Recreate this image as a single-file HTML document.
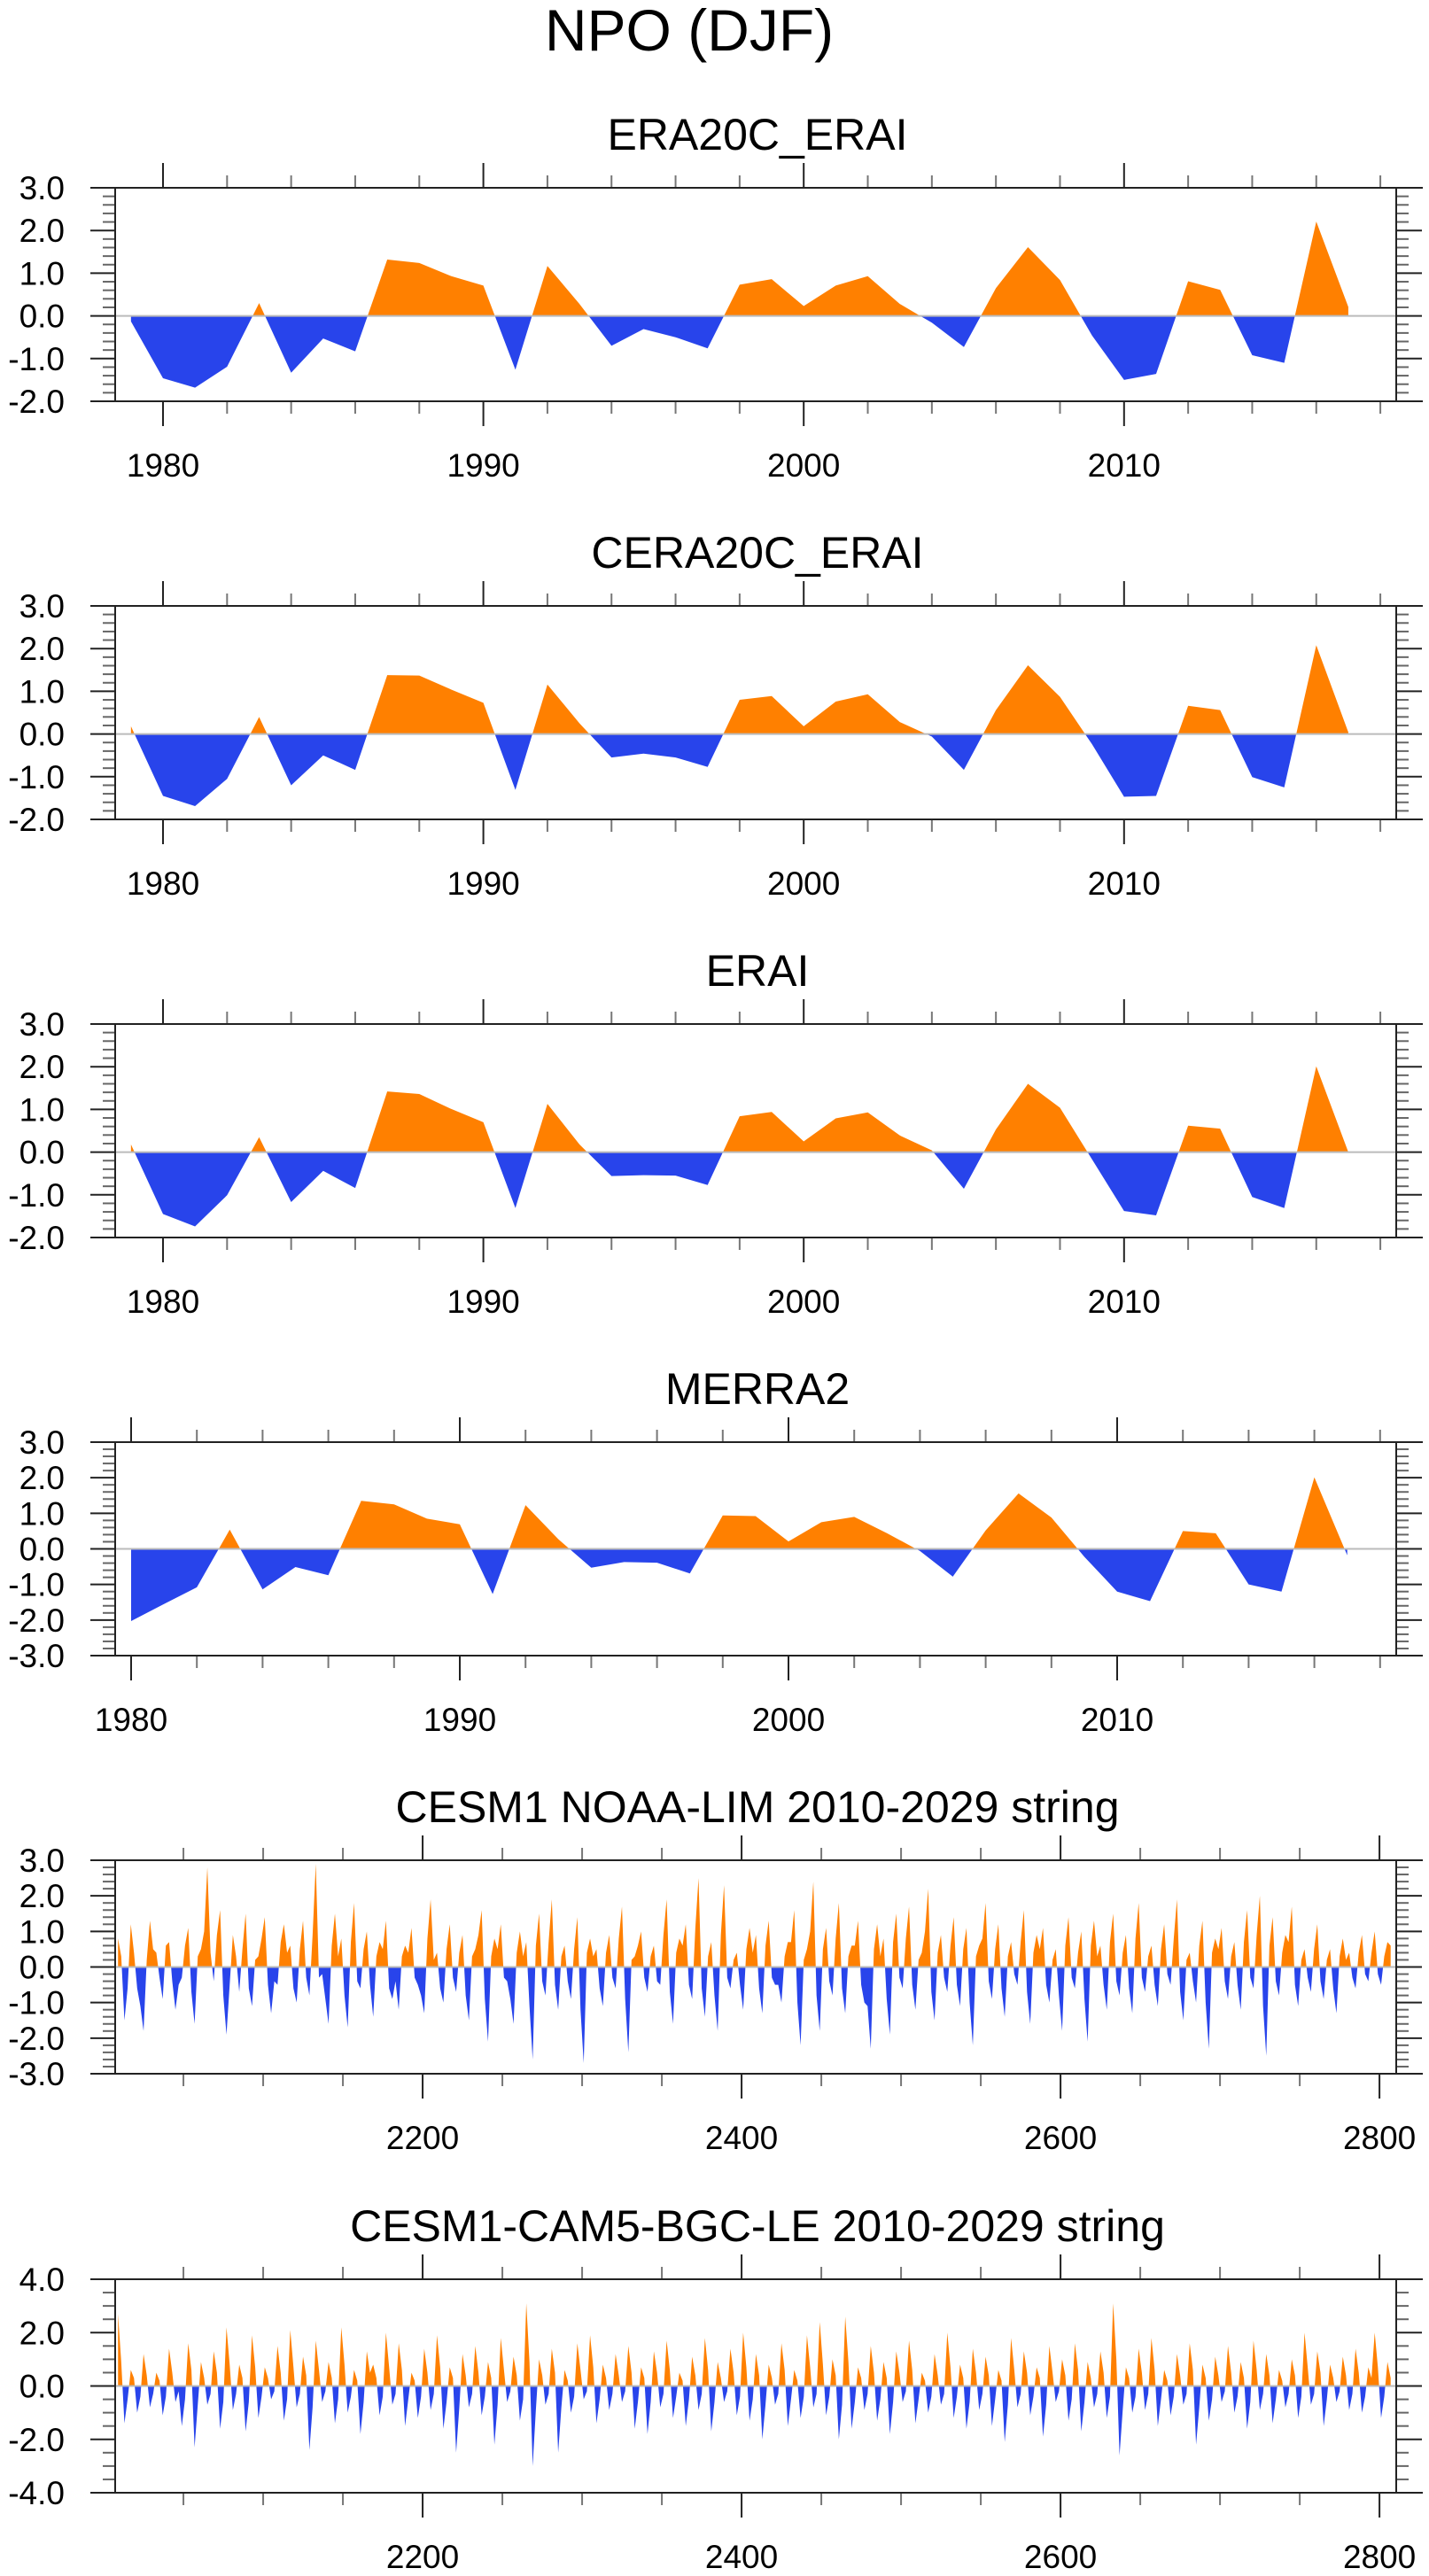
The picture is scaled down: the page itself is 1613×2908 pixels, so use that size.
<!DOCTYPE html>
<html><head><meta charset="utf-8"><title>NPO (DJF)</title>
<style>
html,body{margin:0;padding:0;background:#fff;}
svg{display:block;font-family:"Liberation Sans",Arial,sans-serif;}
</style></head>
<body>
<svg id="fig" width="1613" height="2908" viewBox="0 0 1613 2908" xmlns="http://www.w3.org/2000/svg">
<text x="778" y="57" font-size="66" text-anchor="middle" fill="#000">NPO (DJF)</text>
</svg>
<script>
// ---- data ----
const yearsA = [1979,1980,1981,1982,1983,1984,1985,1986,1987,1988,1989,1990,1991,1992,1993,1994,1995,1996,1997,1998,1999,2000,2001,2002,2003,2004,2005,2006,2007,2008,2009,2010,2011,2012,2013,2014,2015,2016,2017];
const era20cEraiValues = [-0.13,-1.46,-1.68,-1.19,0.3,-1.33,-0.53,-0.83,1.32,1.24,0.93,0.71,-1.26,1.17,0.28,-0.7,-0.31,-0.5,-0.76,0.73,0.86,0.23,0.71,0.93,0.28,-0.16,-0.73,0.65,1.61,0.84,-0.46,-1.5,-1.36,0.81,0.61,-0.92,-1.1,2.21,0.21];
const cera20cEraiValues = [0.18,-1.45,-1.69,-1.05,0.4,-1.2,-0.5,-0.84,1.38,1.37,1.04,0.73,-1.31,1.16,0.25,-0.55,-0.46,-0.55,-0.77,0.8,0.89,0.18,0.76,0.93,0.28,-0.06,-0.84,0.56,1.61,0.87,-0.24,-1.47,-1.45,0.66,0.56,-1.01,-1.25,2.08,0.04];
const eraiValues = [0.18,-1.45,-1.74,-1.01,0.35,-1.17,-0.44,-0.84,1.42,1.36,1.01,0.7,-1.31,1.13,0.18,-0.56,-0.54,-0.55,-0.77,0.84,0.94,0.25,0.79,0.93,0.39,0.04,-0.86,0.53,1.6,1.04,-0.17,-1.38,-1.48,0.62,0.55,-1.05,-1.31,2.01,0.0];
const yearsM = [1980,1981,1982,1983,1984,1985,1986,1987,1988,1989,1990,1991,1992,1993,1994,1995,1996,1997,1998,1999,2000,2001,2002,2003,2004,2005,2006,2007,2008,2009,2010,2011,2012,2013,2014,2015,2016,2017];
const merra2Values = [-2.03,-1.55,-1.08,0.54,-1.14,-0.51,-0.74,1.35,1.25,0.85,0.69,-1.27,1.23,0.27,-0.53,-0.37,-0.39,-0.69,0.94,0.92,0.21,0.75,0.9,0.44,-0.06,-0.78,0.52,1.56,0.88,-0.22,-1.2,-1.47,0.5,0.44,-1.0,-1.2,2.01,-0.18];
const noaaLimValues = [
0.8,0.3,-1.5,-0.6,1.2,0.4,-0.6,-1.1,-1.8,0.2,1.3,0.5,0.4,-0.3,-0.9,0.6,0.7,-0.4,-1.2,-0.5,
-0.3,0.6,1.1,-0.7,-1.6,0.3,0.5,1.0,2.8,0.4,-0.4,0.9,1.6,-0.8,-1.9,-0.5,0.9,0.3,-0.7,0.5,
1.5,-0.6,-1.1,0.2,0.3,0.8,1.4,-0.5,-1.3,-0.4,-0.5,0.7,1.2,0.4,0.6,-0.6,-1.0,0.5,1.3,-0.3,
-0.8,0.9,2.9,-0.3,-0.2,-0.9,-1.6,0.6,1.5,0.3,0.8,-0.8,-1.7,0.7,1.8,-0.4,-0.6,0.5,1.0,-0.5,
-1.4,0.3,0.7,0.5,1.3,-0.6,-0.9,-0.4,-1.2,0.3,0.6,0.4,1.1,-0.3,-0.5,-0.8,-1.3,0.8,1.9,0.2,
0.4,-0.6,-1.0,0.5,1.2,-0.3,-0.7,0.4,0.9,-0.8,-1.5,0.3,0.5,0.9,1.6,-0.9,-2.1,0.3,0.8,0.5,
1.2,-0.3,-0.4,-0.9,-1.6,0.4,1.0,0.3,0.7,-1.1,-2.6,0.6,1.5,-0.4,-0.8,0.7,1.9,-0.5,-1.2,0.3,
0.6,-0.4,-0.9,0.5,1.4,-1.2,-2.7,0.4,0.8,0.3,0.5,-0.6,-1.1,0.4,0.9,-0.3,-0.6,0.8,1.7,-0.9,
-2.4,0.2,0.3,0.6,1.0,-0.3,-0.7,0.3,0.6,-0.4,-0.5,0.9,1.9,-0.7,-1.6,0.4,0.8,0.6,1.2,-0.5,
-0.9,1.1,2.5,-0.6,-1.4,0.3,0.7,-0.8,-1.8,0.9,2.3,-0.3,-0.6,0.2,0.4,-0.5,-1.2,0.5,1.1,0.4,
0.9,-0.6,-1.3,0.6,1.3,-0.3,-0.5,-0.5,-1.0,0.3,0.7,0.7,1.6,-1.0,-2.2,0.2,0.5,1.0,2.4,-0.8,
-1.8,0.5,1.1,-0.4,-0.8,0.8,1.8,-0.6,-1.3,0.3,0.6,0.6,1.3,-0.5,-1.0,-1.1,-2.3,0.5,1.2,0.3,
0.8,-0.9,-1.9,0.7,1.5,-0.3,-0.6,0.8,1.7,-0.5,-1.2,0.2,0.4,1.0,2.2,-0.7,-1.5,0.4,0.9,-0.3,
-0.7,0.6,1.4,-0.5,-1.1,0.5,1.1,-1.0,-2.2,0.3,0.6,0.8,1.8,-0.4,-0.9,0.5,1.2,-0.6,-1.4,0.3,
0.7,-0.2,-0.5,0.7,1.6,-0.7,-1.6,0.4,0.9,0.5,1.1,-0.5,-1.0,0.2,0.5,-0.8,-1.8,0.6,1.4,-0.3,
-0.6,0.4,1.0,-0.9,-2.1,0.6,1.3,0.3,0.6,-0.5,-1.2,0.7,1.5,-0.4,-0.8,0.4,0.9,-0.6,-1.3,0.8,
1.8,-0.3,-0.7,0.3,0.6,-0.5,-1.1,0.5,1.2,-0.2,-0.5,0.8,1.9,-0.7,-1.5,0.2,0.4,-0.4,-1.0,0.6,
1.3,-1.0,-2.3,0.4,0.8,0.5,1.1,-0.4,-0.9,0.3,0.7,-0.5,-1.2,0.7,1.6,-0.3,-0.6,0.9,2.0,-1.1,
-2.5,0.6,1.4,-0.4,-0.8,0.4,0.9,0.7,1.7,-0.5,-1.1,0.2,0.5,-0.3,-0.7,0.5,1.2,-0.4,-0.9,0.2,
0.5,-0.6,-1.3,0.3,0.8,0.2,0.4,-0.3,-0.6,0.4,0.9,-0.2,-0.4,0.4,1.0,-0.2,-0.5,0.3,0.7,0.6];
const bgcLeValues = [
2.7,0.9,-1.4,-0.5,0.6,0.3,-1.0,-0.4,1.2,0.4,-0.8,-0.3,0.5,0.2,-1.1,-0.4,1.4,0.5,-0.6,-0.2,
-1.5,-0.5,1.6,0.6,-2.3,-0.7,0.9,0.3,-0.7,-0.3,1.3,0.5,-1.6,-0.6,2.2,0.8,-0.9,-0.3,0.8,0.3,
-1.7,-0.6,1.9,0.7,-1.2,-0.4,0.7,0.3,-0.5,-0.2,1.5,0.5,-1.3,-0.5,2.1,0.7,-0.8,-0.3,1.1,0.4,
-2.4,-0.8,1.7,0.6,-0.6,-0.2,0.9,0.3,-1.4,-0.5,2.2,0.8,-1.0,-0.4,0.6,0.2,-1.8,-0.6,1.3,0.5,
0.8,0.3,-1.1,-0.4,2.0,0.7,-0.7,-0.3,1.6,0.6,-1.5,-0.5,0.5,0.2,-1.2,-0.4,1.4,0.5,-0.9,-0.3,
1.9,0.7,-1.6,-0.6,0.7,0.3,-2.5,-0.8,1.2,0.4,-0.8,-0.3,1.5,0.5,-1.1,-0.4,0.9,0.3,-2.2,-0.7,
1.8,0.6,-0.6,-0.2,1.1,0.4,-1.3,-0.5,3.1,0.9,-3.0,-0.9,1.0,0.4,-0.7,-0.3,1.4,0.5,-2.5,-0.8,
0.6,0.2,-1.0,-0.4,1.6,0.6,-0.5,-0.2,1.9,0.7,-1.4,-0.5,0.8,0.3,-0.9,-0.3,1.2,0.4,-0.6,-0.2,
1.5,0.5,-1.6,-0.6,0.7,0.3,-1.8,-0.6,1.3,0.5,-0.8,-0.3,1.7,0.6,-1.2,-0.4,0.5,0.2,-1.5,-0.5,
1.1,0.4,-0.9,-0.3,1.8,0.6,-1.7,-0.6,0.9,0.3,-0.6,-0.2,1.4,0.5,-1.1,-0.4,2.0,0.7,-1.3,-0.5,
1.2,0.4,-2.0,-0.7,0.8,0.3,-0.7,-0.3,1.6,0.6,-1.5,-0.5,0.6,0.2,-1.2,-0.4,1.9,0.7,-0.8,-0.3,
2.4,0.8,-1.1,-0.4,1.0,0.4,-2.0,-0.7,2.6,0.9,-1.6,-0.6,0.7,0.3,-0.9,-0.3,1.5,0.5,-1.3,-0.5,
0.9,0.3,-1.8,-0.6,1.3,0.5,-0.6,-0.2,1.7,0.6,-1.4,-0.5,0.5,0.2,-1.0,-0.4,1.2,0.4,-0.7,-0.3,
2.0,0.7,-1.2,-0.4,0.8,0.3,-1.6,-0.6,1.4,0.5,-0.9,-0.3,1.1,0.4,-1.5,-0.5,0.6,0.2,-2.1,-0.7,
1.8,0.6,-0.8,-0.3,1.3,0.5,-1.1,-0.4,0.7,0.3,-1.9,-0.7,1.5,0.5,-0.6,-0.2,1.0,0.4,-1.3,-0.5,
1.6,0.6,-1.7,-0.6,0.9,0.3,-0.8,-0.3,1.3,0.5,-1.2,-0.4,3.1,1.0,-2.6,-0.9,0.7,0.3,-1.0,-0.4,
1.4,0.5,-0.9,-0.3,1.8,0.6,-1.5,-0.5,0.6,0.2,-1.1,-0.4,1.2,0.4,-0.7,-0.3,1.6,0.6,-2.2,-0.8,
0.8,0.3,-1.3,-0.5,1.1,0.4,-0.6,-0.2,1.5,0.5,-1.0,-0.4,0.9,0.3,-1.6,-0.6,1.7,0.6,-0.9,-0.3,
1.2,0.4,-1.4,-0.5,0.6,0.2,-0.8,-0.3,1.0,0.4,-1.2,-0.4,2.0,0.7,-0.7,-0.3,1.3,0.5,-1.5,-0.5,
0.8,0.3,-0.6,-0.2,1.1,0.4,-0.9,-0.3,1.4,0.5,-1.0,-0.4,0.7,0.3,2.0,0.7,-1.2,-0.4,0.9,0.3];
const yTicks3 = ["3.0","2.0","1.0","0.0","-1.0","-2.0"];
const yTicks3b = ["3.0","2.0","1.0","0.0","-1.0","-2.0","-3.0"];
const yTicks4 = ["4.0","2.0","0.0","-2.0","-4.0"];
const xTicksYears = ["1980","1990","2000","2010"];
const xTicksLong = ["2200","2400","2600","2800"];

const NS = "http://www.w3.org/2000/svg";
const svg = document.getElementById("fig");
function mk(tag, attrs, parent){
  const e = document.createElementNS(NS, tag);
  for (const k in attrs) e.setAttribute(k, attrs[k]);
  (parent||svg).appendChild(e);
  return e;
}
const L = 130, R = 1576, H = 241;

function panel(cfg){
  const g = mk("g", {});
  
  
  const top = cfg.top, bot = top + H;
  const sx = v => L + (v - cfg.x0) / (cfg.x1 - cfg.x0) * (R - L);
  const sy = v => top + (cfg.y1 - v) / (cfg.y1 - cfg.y0) * H;
  const t = mk("text", {x: 855, y: top - 43, "font-size": 50, "text-anchor": "middle"}, g);
  
  
  t.textContent = cfg.title;
  const xs = cfg.xs, vs = cfg.vs;
  const pts = [];
  for (let i = 0; i < xs.length; i++){
    if (i > 0 && (vs[i-1] > 0) !== (vs[i] > 0) && vs[i-1] !== 0 && vs[i] !== 0){
      const f = vs[i-1] / (vs[i-1] - vs[i]);
      pts.push([xs[i-1] + f * (xs[i] - xs[i-1]), 0]);
    }
    pts.push([xs[i], vs[i]]);
  }
  const base = sy(0);
  function poly(fn, color, nm){
    let d = "M" + sx(pts[0][0]).toFixed(2) + "," + base.toFixed(2);
    for (const p of pts) d += "L" + sx(p[0]).toFixed(2) + "," + sy(fn(p[1])).toFixed(2);
    d += "L" + sx(pts[pts.length-1][0]).toFixed(2) + "," + base.toFixed(2) + "Z";
    const p = mk("path", {d: d, fill: color, stroke: "none"}, g);
    
    
  }
  poly(v => Math.max(v, 0), "#ff8000", cfg.name + '-positive-fill');
  poly(v => Math.min(v, 0), "#2844eb", cfg.name + '-negative-fill');
  const zl = mk("line", {x1: L, x2: R, y1: base, y2: base, stroke: "#bbbbbb", "stroke-width": 2}, g);
  
  
  for (let v = cfg.y0; v <= cfg.y1 + 1e-6; v += cfg.yMinor){
    const y = sy(v);
    const major = Math.abs(Math.round(v / cfg.yMajor) * cfg.yMajor - v) < 1e-6;
    const len = major ? 28 : 14;
    mk("line", {x1: L - len, x2: L, y1: y, y2: y, stroke: major ? "#222" : "#666", "stroke-width": 2}, g);
    mk("line", {x1: R, x2: R + len + (major ? 1 : 0), y1: y, y2: y, stroke: major ? "#222" : "#666", "stroke-width": 2}, g);
  }
  cfg.yLabels.forEach(lab => {
    const tx = mk("text", {x: 73, y: sy(parseFloat(lab)) + 13, "font-size": 37, "text-anchor": "end"}, g);
    
    
    tx.textContent = lab;
  });
  for (let v = cfg.xMinStart; v <= cfg.x1; v += cfg.xMinor){
    if (v < cfg.x0) continue;
    const x = sx(v);
    const major = (v - cfg.xMajStart) % cfg.xMajor === 0;
    const len = major ? 28 : 14;
    mk("line", {x1: x, x2: x, y1: top - len, y2: top, stroke: major ? "#222" : "#777", "stroke-width": 2}, g);
    mk("line", {x1: x, x2: x, y1: bot, y2: bot + len, stroke: major ? "#222" : "#777", "stroke-width": 2}, g);
  }
  cfg.xLabels.forEach(lab => {
    const tx = mk("text", {x: sx(parseFloat(lab)), y: bot + 85, "font-size": 37, "text-anchor": "middle"}, g);
    
    
    tx.textContent = lab;
  });
  const fr = mk("rect", {x: L, y: top, width: R - L, height: H, fill: "none", stroke: "#222", "stroke-width": 2}, g);
  
  
  mk("line", {x1: 102, x2: 1606, y1: top, y2: top, stroke: "#222", "stroke-width": 2}, g);
  mk("line", {x1: 102, x2: 1606, y1: bot, y2: bot, stroke: "#222", "stroke-width": 2}, g);
}

const yrA = {x0: 1980 - 54/36.16, x1: 1980 + (1576-184)/36.16};
const yrM = {x0: 1980 - 18/37.1, x1: 1980 + (1576-148)/37.1};
const idx = [];
for (let i = 0; i < noaaLimValues.length; i++) idx.push(2009 + i * 2);
const idx2 = [];
for (let i = 0; i < bgcLeValues.length; i++) idx2.push(2009 + i * 2);

panel({name: 'era20c-erai', title: 'ERA20C_ERAI', top: 212, x0: yrA.x0, x1: yrA.x1, y0: -2, y1: 3, yMajor: 1, yMinor: 0.2, yLabels: yTicks3, xMinStart: 1978, xMinor: 2, xMajStart: 1980, xMajor: 10, xLabels: xTicksYears, xs: yearsA, vs: era20cEraiValues});
panel({name: 'cera20c-erai', title: 'CERA20C_ERAI', top: 684, x0: yrA.x0, x1: yrA.x1, y0: -2, y1: 3, yMajor: 1, yMinor: 0.2, yLabels: yTicks3, xMinStart: 1978, xMinor: 2, xMajStart: 1980, xMajor: 10, xLabels: xTicksYears, xs: yearsA, vs: cera20cEraiValues});
panel({name: 'erai', title: 'ERAI', top: 1156, x0: yrA.x0, x1: yrA.x1, y0: -2, y1: 3, yMajor: 1, yMinor: 0.2, yLabels: yTicks3, xMinStart: 1978, xMinor: 2, xMajStart: 1980, xMajor: 10, xLabels: xTicksYears, xs: yearsA, vs: eraiValues});
panel({name: 'merra2', title: 'MERRA2', top: 1628, x0: yrM.x0, x1: yrM.x1, y0: -3, y1: 3, yMajor: 1, yMinor: 0.2, yLabels: yTicks3b, xMinStart: 1980, xMinor: 2, xMajStart: 1980, xMajor: 10, xLabels: xTicksYears, xs: yearsM, vs: merra2Values});
panel({name: 'cesm1-noaa-lim', title: 'CESM1 NOAA-LIM 2010-2029 string', top: 2100, x0: 2007.2, x1: 2810.5, y0: -3, y1: 3, yMajor: 1, yMinor: 0.2, yLabels: yTicks3b, xMinStart: 2050, xMinor: 50, xMajStart: 2000, xMajor: 200, xLabels: xTicksLong, xs: idx, vs: noaaLimValues});
panel({name: 'cesm1-cam5-bgc-le', title: 'CESM1-CAM5-BGC-LE 2010-2029 string', top: 2573, x0: 2007.2, x1: 2810.5, y0: -4, y1: 4, yMajor: 2, yMinor: 0.5, yLabels: yTicks4, xMinStart: 2050, xMinor: 50, xMajStart: 2000, xMajor: 200, xLabels: xTicksLong, xs: idx2, vs: bgcLeValues});
</script>
</body></html>
